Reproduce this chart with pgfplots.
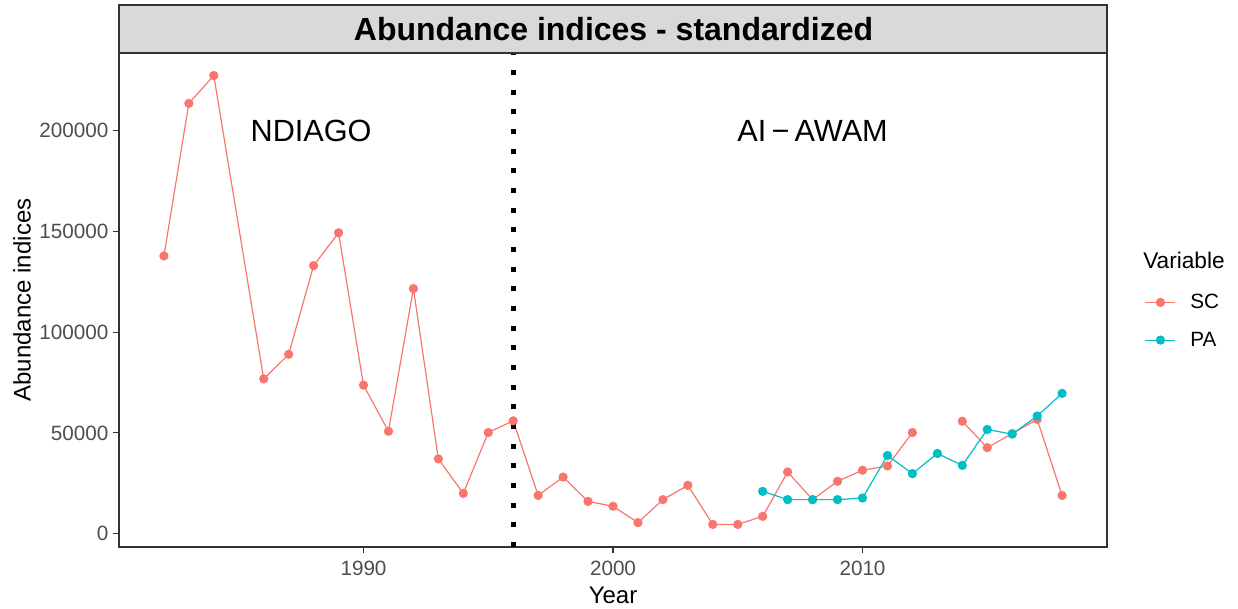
\documentclass[border=0pt]{standalone}
\usepackage{fontspec}
\setmainfont{Liberation Sans}
\usepackage{pgfplots}
\pgfplotsset{compat=1.18}
\definecolor{sccol}{HTML}{F8766D}
\definecolor{pacol}{HTML}{00BFC4}
\definecolor{gray30}{HTML}{4D4D4D}
\definecolor{gray20}{HTML}{333333}
\definecolor{gray85}{HTML}{D9D9D9}
\begin{document}
\begin{tikzpicture}
\useasboundingbox (0,0) rectangle (928.5pt,456.75pt);
\begin{axis}[
  at={(89.25pt,46.5pt)}, anchor=south west,
  width=741pt, height=370.5pt, scale only axis,
  clip=false,
  xmin=1980.2, xmax=2019.8, ymin=-6600, ymax=238500,
  axis line style={gray20, line width=0.8pt},
  tick align=outside, major tick length=4.5pt,
  every tick/.style={gray20, line width=0.8pt},
  xtick={1990,2000,2010}, xticklabels={1990,2000,2010},
  ytick={0,50000,100000,150000,200000}, yticklabels={0,50000,100000,150000,200000},
  scaled y ticks=false,
  xtick pos=bottom, ytick pos=left,
  /pgf/number format/assume math mode=true,
  ticklabel style={font=\fontsize{15.5}{18}\selectfont, text=gray30},
  xticklabel style={yshift=-2.5pt},
  xlabel={Year}, ylabel={Abundance indices},
  label style={font=\fontsize{18}{21}\selectfont},
  xlabel style={at={(axis description cs:0.5,-0.0972)}, anchor=center},
  ylabel style={at={(axis description cs:-0.0982,0.5)}, anchor=center},
  unbounded coords=jump,
  legend style={at={(axis description cs:1.034,0.523)}, anchor=north west, draw=none, fill=none,
    font=\fontsize{15.5}{18}\selectfont, row sep=12pt},
  legend cell align=left,
  legend image code/.code={\draw[mark repeat=2,mark phase=2,#1] plot coordinates {(0pt,0pt) (11.25pt,0pt) (22.5pt,0pt)}; \path (31.25pt,0pt);},
]
\addplot[sccol, line width=0.9pt, mark=*, mark size=3pt, mark options={fill=sccol, draw=none}] coordinates {
(1982,137800) (1983,213500) (1984,227300) (1986,76800) (1987,89000) (1988,133000) (1989,149300)
(1990,73700) (1991,50800) (1992,121600) (1993,37100) (1994,20000) (1995,50200) (1996,56000)
(1997,19000) (1998,28100) (1999,16000) (2000,13600) (2001,5500) (2002,16900) (2003,24000)
(2004,4600) (2005,4600) (2006,8600) (2007,30600) (2008,16900) (2009,26000) (2010,31500)
(2011,33600) (2012,50200) (2013,nan) (2014,55800) (2015,42700) (2016,49700) (2017,56700) (2018,19000)
};
\addlegendentry{SC}
\addplot[pacol, line width=0.9pt, mark=*, mark size=3pt, mark options={fill=pacol, draw=none}] coordinates {
(2006,21000) (2007,16900) (2008,16900) (2009,16900) (2010,17700) (2011,38800) (2012,29800)
(2013,39800) (2014,33900) (2015,51700) (2016,49400) (2017,58400) (2018,69600)
};
\addlegendentry{PA}
\addplot[black, line width=3.75pt, dash pattern=on 3.75pt off 11pt, forget plot] coordinates {(1996,-6600) (1996,238500)};
\node[font=\fontsize{23}{27}\selectfont] at (axis cs:1987.9,200000) {NDIAGO};
\node[font=\fontsize{23}{27}\selectfont] at (axis cs:2008,200000) {AI\,−\,AWAM};
\draw[fill=gray85, draw=gray20, line width=0.8pt] (rel axis cs:0,1) rectangle (rel axis cs:1,1.0972);
\node[font=\bfseries\fontsize{24}{28}\selectfont] at (rel axis cs:0.5005,1.0486) {Abundance indices - standardized};
\node[anchor=west, inner sep=0pt, font=\fontsize{17}{20}\selectfont] at (rel axis cs:1.0364,0.581) {Variable};
\end{axis}
\end{tikzpicture}
\end{document}
